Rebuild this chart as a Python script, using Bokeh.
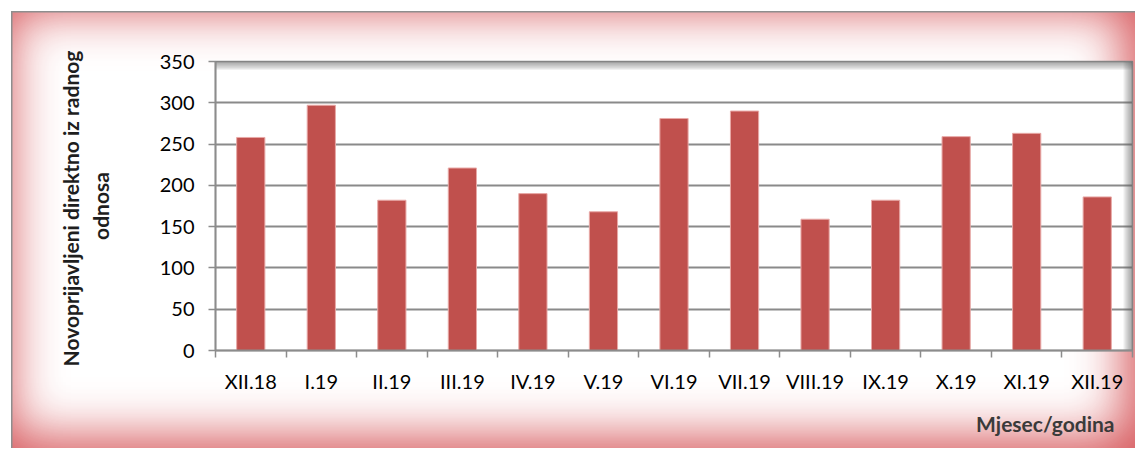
import numpy as np
from bokeh.plotting import figure
from bokeh.models import Range1d, FixedTicker, BoxAnnotation, ColumnDataSource, Title
from bokeh.embed import file_html
from bokeh.resources import INLINE

months = ["XII.18", "I.19", "II.19", "III.19", "IV.19", "V.19", "VI.19",
          "VII.19", "VIII.19", "IX.19", "X.19", "XI.19", "XII.19"]
values = [258, 297, 182, 221, 190, 168, 281, 290, 159, 182, 259, 263, 186]
y_ticks = [0, 50, 100, 150, 200, 250, 300, 350]
y_title = "Novoprijavljeni  direktno iz radnog\nodnosa"
x_title = "Mjesec/godina"

n = len(months)
xpos = np.arange(n) + 0.5
src = ColumnDataSource(dict(x=xpos, top=values, label=months))

p = figure(width=1135, height=448, output_backend="svg", toolbar_location=None,
           x_range=Range1d(0, n), y_range=Range1d(0, max(y_ticks)),
           min_border_left=215, min_border_top=61, min_border_right=3,
           min_border_bottom=98)
p.styles = {
    "box-shadow": ("inset 11px 11px 0 0 #ffffff, inset 12.5px 12.5px 0 0 #8e8e8e, "
                   "inset 0 0 50px 11px rgba(210, 72, 76, 0.92)"),
    "background": "#ffffff",
}
p.border_fill_alpha = 0
p.background_fill_color = "white"
p.outline_line_color = "#8c8c8c"
p.outline_line_width = 1.5

p.vbar(x="x", top="top", width=0.4, source=src, fill_color="#C0504D",
       line_color="#e8a9a7", line_width=1)

# inner shadow of plot area (top and right)
for k in range(1, 9):
    p.add_layout(BoxAnnotation(bottom=max(y_ticks) - k * 1.3, fill_color="#606060",
                               fill_alpha=0.09, line_color=None, level="underlay"))
    p.add_layout(BoxAnnotation(left=n - k * 0.016, fill_color="#606060",
                               fill_alpha=0.09, line_color=None, level="underlay"))

p.xgrid.visible = False
p.ygrid.ticker = FixedTicker(ticks=y_ticks)
p.ygrid.grid_line_color = "#8a8a8a"
p.ygrid.grid_line_width = 1.8

ya = p.yaxis[0]
ya.ticker = FixedTicker(ticks=y_ticks)
ya.axis_line_color = "#8c8c8c"
ya.axis_line_width = 1.8
ya.major_tick_line_color = "#8c8c8c"
ya.major_tick_line_width = 1.5
ya.major_tick_out = 7
ya.major_tick_in = 0
ya.minor_tick_line_color = None
ya.major_label_text_font = "Lato"
ya.major_label_text_font_size = "20px"
ya.major_label_text_color = "#000000"
ya.major_label_standoff = 14
ya.axis_label = y_title
ya.axis_label_text_font = "Lato"
ya.axis_label_text_font_style = "bold"
ya.axis_label_text_font_size = "21px"
ya.axis_label_text_color = "#1e1e1e"
ya.axis_label_standoff = 44

xa = p.xaxis[0]
xa.ticker = FixedTicker(ticks=list(xpos), minor_ticks=list(np.arange(n + 1)))
xa.major_label_overrides = {float(x): m for x, m in zip(xpos, months)}
xa.axis_line_color = "#8c8c8c"
xa.axis_line_width = 1.8
xa.major_tick_line_color = None
xa.major_tick_out = 7
xa.major_tick_in = 0
xa.minor_tick_line_color = "#8c8c8c"
xa.minor_tick_line_width = 1.5
xa.minor_tick_out = 7
xa.minor_tick_in = 0
xa.major_label_text_font = "Lato"
xa.major_label_text_font_size = "20px"
xa.major_label_text_color = "#000000"
xa.major_label_standoff = 11

x_label = Title(text=x_title, align="right", offset=18, standoff=26,
                text_font="Lato", text_font_style="bold", text_font_size="21px",
                text_color="#3a3a3a")
p.add_layout(x_label, "below")

open("out.html", "w").write(file_html(p, INLINE))
